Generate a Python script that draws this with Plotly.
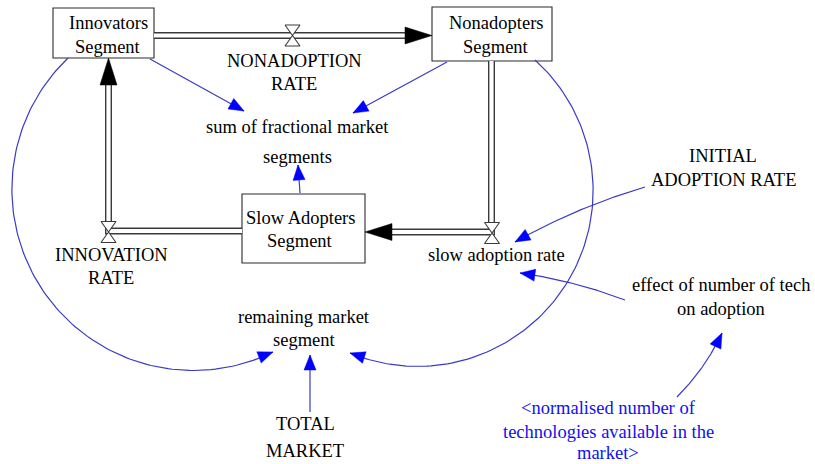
import numpy as np
import plotly.graph_objects as go

# ---------------- diagram content (text) ----------------
stock_names = ["Innovators Segment", "Nonadopters Segment", "Slow Adopters Segment"]
stock_lines = [["Innovators", "Segment"], ["Nonadopters", "Segment"], ["Slow Adopters", "Segment"]]

flow_names = ["NONADOPTION RATE", "slow adoption rate", "INNOVATION RATE"]
flow_lines = [["NONADOPTION", "RATE"], ["slow adoption rate"], ["INNOVATION", "RATE"]]
flow_from = ["Innovators Segment", "Nonadopters Segment", "Slow Adopters Segment"]
flow_to = ["Nonadopters Segment", "Slow Adopters Segment", "Innovators Segment"]

aux_names = ["sum of fractional market segments", "INITIAL ADOPTION RATE",
             "effect of number of tech on adoption", "remaining market segment", "TOTAL MARKET"]
aux_lines = [["sum of fractional market", "segments"], ["INITIAL", "ADOPTION RATE"],
             ["effect of number of tech", "on adoption"], ["remaining market", "segment"],
             ["TOTAL", "MARKET"]]

shadow_names = ["normalised number of technologies available in the market"]
shadow_lines = [["<normalised number of", "technologies available in the", "market>"]]

link_from = ["Innovators Segment", "Nonadopters Segment", "Slow Adopters Segment",
             "INITIAL ADOPTION RATE", "effect of number of tech on adoption",
             "Innovators Segment", "Nonadopters Segment", "TOTAL MARKET",
             "normalised number of technologies available in the market"]
link_to = ["sum of fractional market segments", "sum of fractional market segments",
           "sum of fractional market segments", "slow adoption rate", "slow adoption rate",
           "remaining market segment", "remaining market segment", "remaining market segment",
           "effect of number of tech on adoption"]

# ---------------- layout (pixel positions of the sketch) ----------------
stock_boxes = {  # x0, y0, x1, y1
    "Innovators Segment": (53, 8, 154, 58),
    "Nonadopters Segment": (432, 7, 552, 61),
    "Slow Adopters Segment": (242, 194, 365, 263),
}
text_pos = {  # x centre, y of each line
    "Innovators Segment": (108, [23, 47]),
    "Nonadopters Segment": (496, [23, 47]),
    "Slow Adopters Segment": (300, [218, 241]),
    "NONADOPTION RATE": (294, [61, 84]),
    "slow adoption rate": (496, [255]),
    "INNOVATION RATE": (111, [255, 278]),
    "sum of fractional market segments": (297, [127, 157]),
    "INITIAL ADOPTION RATE": (723, [156, 180]),
    "effect of number of tech on adoption": (721, [285, 309]),
    "remaining market segment": (304, [317, 340]),
    "TOTAL MARKET": (305, [424, 451]),
    "normalised number of technologies available in the market": (608, [408, 432, 453]),
}
pipe_paths = {  # polyline ending at the arrow tip
    "NONADOPTION RATE": [(154, 35.5), (432, 35.5)],
    "slow adoption rate": [(491.5, 61), (491.5, 232), (365, 232)],
    "INNOVATION RATE": [(242, 231), (108.5, 231), (108.5, 58)],
}
valve_pos = {
    "NONADOPTION RATE": (292.5, 35.5),
    "slow adoption rate": (492, 233),
    "INNOVATION RATE": (108.5, 232),
}
link_geom = [  # start, mid (curvature), tip
    ((150, 59), None, (244, 111)),
    ((447, 62), None, (353, 113)),
    ((300, 193), None, (298, 165)),
    ((645, 187), (590, 206), (515, 242)),
    ((625, 300), (575, 284), (520, 273)),
    ((68, 58), (12, 183), (273, 352)),
    ((535, 60), (593, 197), (350, 353)),
    ((310, 412), None, (310, 355)),
    ((677, 397), (703, 366), (722, 333)),
]

FONT = "Liberation Serif"
FS = 18.5
BLUE_LINE = "#3a3ac8"
BLUE_HEAD = "#0000ff"
PIPE = "#3a3a3a"

fig = go.Figure()


def add_line(pts, color, width):
    xs, ys = zip(*pts)
    fig.add_trace(go.Scatter(x=list(xs), y=list(ys), mode="lines",
                             line=dict(color=color, width=width),
                             hoverinfo="skip", showlegend=False))


def add_poly(pts, fill, line_color, width):
    xs, ys = zip(*(list(pts) + [pts[0]]))
    fig.add_trace(go.Scatter(x=list(xs), y=list(ys), mode="lines", fill="toself",
                             fillcolor=fill, line=dict(color=line_color, width=width),
                             hoverinfo="skip", showlegend=False))


def arrow_head(tip, prev, length, half_w, color):
    tip = np.array(tip, float)
    d = tip - np.array(prev, float)
    d /= np.linalg.norm(d)
    n = np.array([-d[1], d[0]])
    base = tip - d * length
    add_poly([tuple(tip), tuple(base + n * half_w), tuple(base - n * half_w)], color, color, 0.5)
    return tuple(base)


def arc(p0, pm, p1, n=120):
    if pm is None:
        return [p0, p1]
    (ax, ay), (bx, by), (cx, cy) = p0, pm, p1
    d = 2 * (ax * (by - cy) + bx * (cy - ay) + cx * (ay - by))
    ux = ((ax**2 + ay**2) * (by - cy) + (bx**2 + by**2) * (cy - ay) + (cx**2 + cy**2) * (ay - by)) / d
    uy = ((ax**2 + ay**2) * (cx - bx) + (bx**2 + by**2) * (ax - cx) + (cx**2 + cy**2) * (bx - ax)) / d
    r = np.hypot(ax - ux, ay - uy)
    a0 = np.arctan2(ay - uy, ax - ux)
    am = np.arctan2(by - uy, bx - ux)
    a1 = np.arctan2(cy - uy, cx - ux)

    def ccw(a, b):
        return (b - a) % (2 * np.pi)
    if ccw(a0, am) < ccw(a0, a1):
        angs = a0 + np.linspace(0, ccw(a0, a1), n)
    else:
        angs = a0 - np.linspace(0, ccw(a1, a0), n)
    return [(ux + r * np.cos(t), uy + r * np.sin(t)) for t in angs]


# ---------------- stocks (boxes) ----------------
shapes = []
for name in stock_names:
    x0, y0, x1, y1 = stock_boxes[name]
    shapes.append(dict(type="rect", xref="x", yref="y", x0=x0, y0=y0, x1=x1, y1=y1,
                       line=dict(color="#2a2a2a", width=1.1), fillcolor="white", layer="below"))

# ---------------- flows (pipes, valves, arrowheads) ----------------
for name in flow_names:
    pts = pipe_paths[name]
    tip, prev = pts[-1], pts[-2]
    t = np.array(tip, float)
    d = t - np.array(prev, float)
    d /= np.linalg.norm(d)
    stop = tuple(t - d * 20)
    body = pts[:-1] + [stop]
    add_line(body, PIPE, 7)
    add_line(body, "white", 4.2)
    arrow_head(tip, prev, 27, 8.5, "black")
    vx, vy = valve_pos[name]
    w, h = 7.5, 10.5
    add_poly([(vx - w, vy - h), (vx + w, vy - h), (vx - w, vy + h), (vx + w, vy + h)],
             "white", PIPE, 1.1)

# ---------------- information links ----------------
for (p0, pm, p1) in link_geom:
    pts = arc(p0, pm, p1)
    add_line(pts, BLUE_LINE, 1.2)
    prev = pts[-8] if pm is not None else p0
    arrow_head(p1, prev, 15, 6, BLUE_HEAD)

# ---------------- text ----------------
annotations = []


def add_text(lines, key, color):
    xc, ys = text_pos[key]
    for line, y in zip(lines, ys):
        annotations.append(dict(x=xc, y=y, xref="x", yref="y",
                                text=line.replace("<", "&lt;").replace(">", "&gt;"),
                                showarrow=False, xanchor="center", yanchor="middle",
                                font=dict(family=FONT, size=FS, color=color)))


for name, lines in zip(stock_names, stock_lines):
    add_text(lines, name, "black")
for name, lines in zip(flow_names, flow_lines):
    add_text(lines, name, "black")
for name, lines in zip(aux_names, aux_lines):
    add_text(lines, name, "black")
for name, lines in zip(shadow_names, shadow_lines):
    add_text(lines, name, "#1010f0")

fig.update_layout(
    width=815, height=464, margin=dict(l=0, r=0, t=0, b=0),
    paper_bgcolor="white", plot_bgcolor="white",
    font=dict(family=FONT),
    xaxis=dict(range=[0, 815], visible=False, fixedrange=True),
    yaxis=dict(range=[464, 0], visible=False, fixedrange=True),
    shapes=shapes, annotations=annotations, showlegend=False,
)
fig.write_html("out.html", config={"displayModeBar": False},
               post_script="document.body.style.margin='0';document.body.style.overflow='hidden';")
